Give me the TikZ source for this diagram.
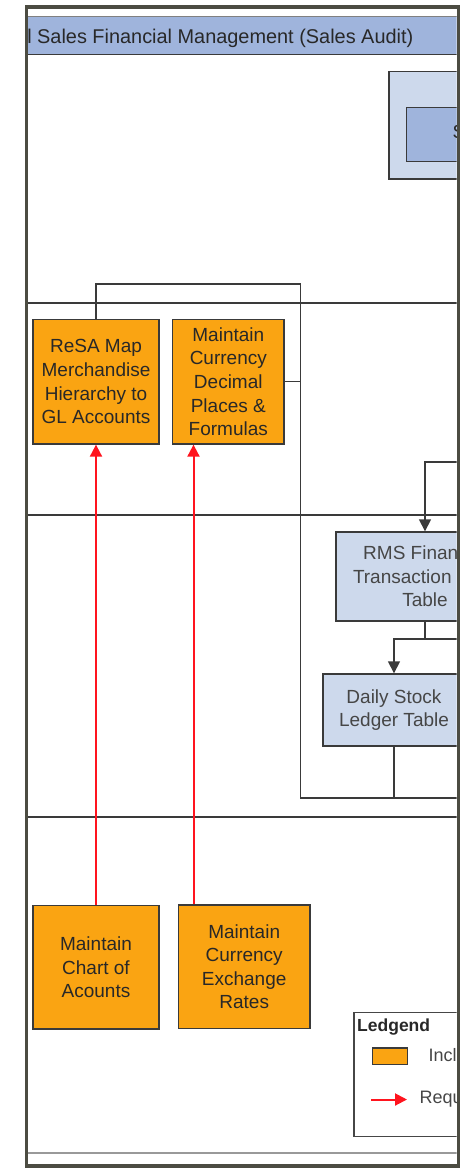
\documentclass[tikz,border=0pt]{standalone}
\usepackage{fontspec}
\setmainfont{Liberation Sans}
\usetikzlibrary{arrows.meta}
\definecolor{orng}{RGB}{250,164,18}
\definecolor{ltblue}{RGB}{205,217,236}
\definecolor{hdblue}{RGB}{159,180,220}
\definecolor{framec}{RGB}{76,76,66}
\definecolor{linec}{RGB}{58,58,58}
\definecolor{txtc}{RGB}{40,40,40}
\definecolor{graytxt}{RGB}{70,70,70}
\definecolor{reqred}{RGB}{255,20,30}
\newcommand\boxfont{\fontsize{19}{23.6}\selectfont}
\tikzset{
  orangebox/.style={draw=linec, fill=orng, line width=1.4pt, align=center, text=txtc, font=\boxfont, inner sep=0pt},
  bluebox/.style={draw=linec, fill=ltblue, line width=1.4pt, align=center, text=graytxt, font=\boxfont, inner sep=0pt},
  lane/.style={draw=linec, line width=2.2pt},
  conn/.style={draw=linec, line width=1.5pt},
  connarrow/.style={conn, -{Triangle[length=12pt,width=12pt]}},
  req/.style={draw=reqred, line width=2pt, -{Triangle[length=12pt,width=12pt]}}
}
\begin{document}
\begin{tikzpicture}[x=1pt,y=-1pt]
\useasboundingbox (0,0) rectangle (474,1168);
\begin{scope}
\clip (28,9.3) rectangle (456.6,1163.5);
% header band
\node (header) [fill=hdblue, anchor=north west, minimum width=460pt, minimum height=38pt, inner sep=0pt] at (18,16) {};
\draw[gray, line width=1pt] (header.north west) -- (header.north east);
\draw[linec, line width=1.5pt] (header.south west) -- (header.south east);
\node (headertxt) [anchor=base east, inner sep=0pt, text=txtc, font=\fontsize{19.9}{24}\selectfont] at (413.5,43.3) {Retail Sales Financial Management (Sales Audit)};
% lanes
\coordinate (laneAw) at (18,302.7); \coordinate (laneAe) at (470,302.7);
\coordinate (laneBw) at (18,515);   \coordinate (laneBe) at (470,515);
\coordinate (laneCw) at (18,816.7); \coordinate (laneCe) at (470,816.7);
\draw[lane] (laneAw) -- (laneAe);
\draw[lane] (laneBw) -- (laneBe);
\draw[lane] (laneCw) -- (laneCe);
% system box at top right
\node (sysouter) [draw=linec, fill=ltblue, line width=1.4pt, anchor=north west, minimum width=140pt, minimum height=107.6pt, inner sep=0pt] at (388.3,70.7) {};
\node (sysinner) [draw=linec, fill=hdblue, line width=1.4pt, anchor=north west, minimum width=100pt, minimum height=54pt, inner sep=0pt] at (406,106.7) {};
\node (syslabel) [anchor=west, inner sep=0pt, text=txtc, font=\boxfont] at (452.3,132) {S};
% orange boxes
\node (resa) [orangebox, minimum width=126.3pt, minimum height=124.5pt] at (96,381.7) {ReSA Map\\Merchandise\\Hierarchy to\\GL Accounts};
\node (decimal) [orangebox, minimum width=111.7pt, minimum height=124.5pt] at (228.3,381.7) {Maintain\\Currency\\Decimal\\Places \&\\Formulas};
\node (chart) [orangebox, minimum width=125.7pt, minimum height=123.3pt] at (96,967.3) {Maintain\\Chart of\\Acounts};
\node (exchange) [orangebox, minimum width=131.7pt, minimum height=123.3pt] at (244.2,966.7) {Maintain\\Currency\\Exchange\\Rates};
% blue tables
\node (rms) [bluebox, minimum width=178pt, minimum height=89pt] at (425,576.5) {RMS Financial\\Transaction Data\\Table};
\node (daily) [bluebox, minimum width=142pt, minimum height=72pt] at (394,710) {Daily Stock\\Ledger Table};
% connectors
\coordinate (jA) at (300.5,284);
\coordinate (jB) at (300.5,798);
\coordinate (outB) at (470,798);
\draw[conn] (resa.north) |- (jA) -- (jB) -- (outB);
\draw[conn] (decimal.east) -- (decimal.east -| jA);
\draw[conn] (daily.south) -- (daily.south |- jB);
\coordinate (inR) at (470,462);
\draw[connarrow] (inR) -| (rms.north);
\coordinate (jC) at (425,639);
\coordinate (outC) at (470,639);
\draw[conn] (rms.south) -- (jC) -- (outC);
\draw[connarrow] (jC) -| (daily.north);
% requirement arrows
\draw[req] (chart.north) -- (resa.south);
\coordinate (reqx) at (193.5,0);
\draw[req] (exchange.north -| reqx) -- (decimal.south -| reqx);
% legend
\node (legend) [draw=graytxt, line width=1.3pt, anchor=north west, minimum width=150pt, minimum height=124.3pt, inner sep=0pt] at (353.3,1011.7) {};
\node (legtitle) [anchor=base west, inner sep=0pt, text=txtc, font=\bfseries\fontsize{17.5}{20}\selectfont] at (357,1031.5) {Ledgend};
\node (legbox) [draw=linec, fill=orng, line width=1.4pt, anchor=north west, minimum width=35pt, minimum height=16.7pt, inner sep=0pt] at (371.7,1047.3) {};
\node (legincl) [anchor=west, inner sep=0pt, text=graytxt, font=\fontsize{18}{20}\selectfont] at (428.5,1055.5) {Included};
\coordinate (lega) at (371,1099.5);
\coordinate (legb) at (407,1099.5);
\draw[req] (lega) -- (legb);
\node (legreq) [anchor=west, inner sep=0pt, text=graytxt, font=\fontsize{18}{20}\selectfont] at (419.5,1099) {Required};
% bottom gray rule
\coordinate (botw) at (18,1152.7); \coordinate (bote) at (470,1152.7);
\draw[gray!80, line width=2pt] (botw) -- (bote);
\end{scope}
% outer frame
\draw[framec, line width=3.8pt] (26.4,7.3) rectangle (458.4,1166);
\end{tikzpicture}
\end{document}
